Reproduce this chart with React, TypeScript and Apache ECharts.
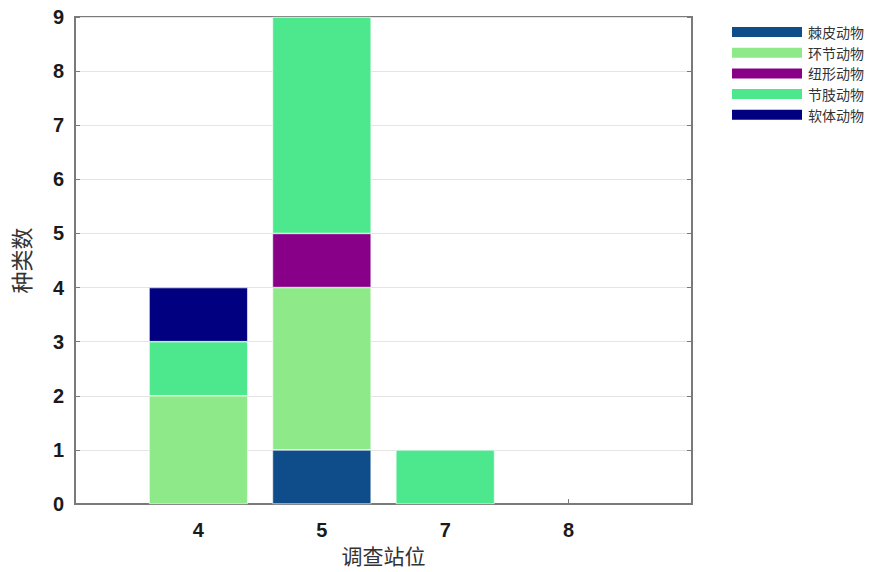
import React, { useEffect, useRef } from "react";
import * as echarts from "echarts";

const stations = ["4", "5", "7", "8"];
const seriesNames = ["棘皮动物", "环节动物", "纽形动物", "节肢动物", "软体动物"];
const echinoderm = [0, 1, 0, 0];
const annelid = [2, 3, 0, 0];
const nemertea = [0, 1, 0, 0];
const arthropod = [1, 4, 1, 0];
const mollusc = [1, 0, 0, 0];
const seriesColors = ["#0f4d8a", "#8eea88", "#880088", "#4de88e", "#000080"];
const yTicks = [0, 1, 2, 3, 4, 5, 6, 7, 8, 9];

export default function App() {
  const ref = useRef<HTMLDivElement>(null);
  useEffect(() => {
    if (!ref.current) return;
    document.body.style.margin = "0";
    const chart = echarts.init(ref.current, null, { renderer: "svg" });
    const axisData = ["", ...stations, ""];
    const pad = (arr: number[]) => [null, ...arr.map((v) => (v === 0 ? null : v)), null];
    const allData = [echinoderm, annelid, nemertea, arthropod, mollusc];
    const gray = "#7a7a7a";
    chart.setOption({
      animation: false,
      backgroundColor: "#ffffff",
      grid: {
        left: 75,
        right: 203,
        top: 17,
        bottom: 68,
        show: true,
        borderColor: gray,
        borderWidth: 2,
        outerBoundsMode: "none",
        containLabel: false,
      },
      legend: {
        orient: "vertical",
        left: 725,
        top: 20,
        itemWidth: 72,
        itemHeight: 12,
        itemGap: 6.7,
        icon: "rect",
        data: seriesNames,
        textStyle: {
          fontFamily: "Noto Sans CJK SC",
          fontSize: 14,
          lineHeight: 14,
          color: "#333333",
        },
      },
      xAxis: {
        type: "category",
        data: axisData,
        boundaryGap: false,
        axisLine: { show: true, lineStyle: { color: gray, width: 2 } },
        axisTick: {
          show: true,
          inside: true,
          length: 5,
          lineStyle: { color: gray },
          interval: (i: number) => i > 0 && i < axisData.length - 1,
        },
        axisLabel: {
          show: true,
          interval: 0,
          margin: 16,
          fontFamily: "Liberation Sans",
          fontWeight: "bold",
          fontSize: 20,
          color: "#1a1a1a",
        },
        splitLine: { show: false },
        name: "调查站位",
        nameLocation: "middle",
        nameGap: 39,
        nameTextStyle: {
          fontFamily: "Noto Sans CJK SC",
          fontSize: 21,
          color: "#333333",
        },
      },
      yAxis: [
        {
          type: "value",
          min: yTicks[0],
          max: yTicks[yTicks.length - 1],
          interval: 1,
          axisLine: { show: true, lineStyle: { color: gray, width: 2 } },
          axisTick: { show: true, inside: true, length: 5, lineStyle: { color: gray } },
          axisLabel: {
            margin: 11,
            fontFamily: "Liberation Sans",
            fontWeight: "bold",
            fontSize: 20,
            color: "#1a1a1a",
          },
          splitLine: { show: true, lineStyle: { color: "#e4e4e4", width: 1 } },
          name: "种类数",
          nameLocation: "middle",
          nameGap: 44,
          nameRotate: 90,
          nameTextStyle: {
            fontFamily: "Noto Sans CJK SC",
            fontSize: 22,
            color: "#333333",
          },
        },
        {
          type: "value",
          min: yTicks[0],
          max: yTicks[yTicks.length - 1],
          interval: 1,
          position: "right",
          axisLine: { show: true, lineStyle: { color: gray, width: 2 } },
          axisTick: { show: true, inside: true, length: 5, lineStyle: { color: gray } },
          axisLabel: { show: false },
          splitLine: { show: false },
        },
      ],
      series: seriesNames.map((name, i) => ({
        name,
        type: "bar",
        stack: "total",
        barWidth: "80%",
        data: pad(allData[i]),
        itemStyle: { color: seriesColors[i], borderColor: "#ffffff", borderWidth: 0.6 },
      })),
    });
    return () => chart.dispose();
  }, []);
  return <div ref={ref} style={{ width: 895, height: 572 }} />;
}
